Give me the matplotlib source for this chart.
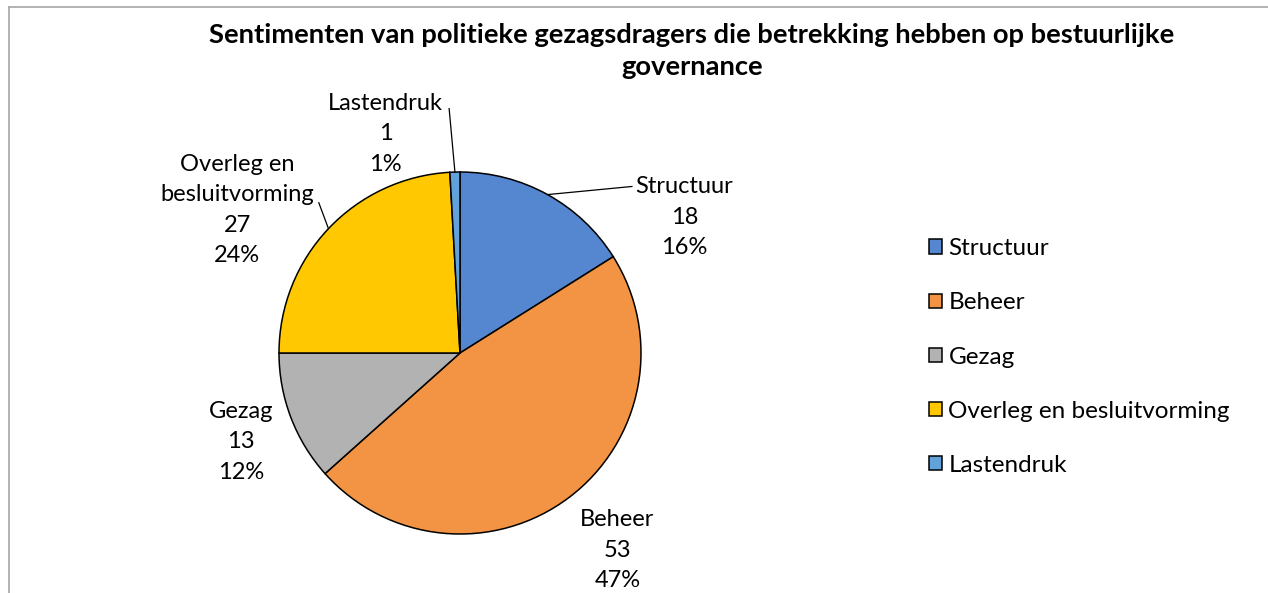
import numpy as np
import matplotlib.pyplot as plt
from matplotlib.lines import Line2D

plt.rcParams['font.family'] = ['Lato', 'DejaVu Sans']

# data
categories = ['Structuur', 'Beheer', 'Gezag', 'Overleg en besluitvorming', 'Lastendruk']
values = [18, 53, 13, 27, 1]
colors = ['#5586D0', '#F29444', '#B2B2B2', '#FFC800', '#62A2DA']
label_names = ['Structuur', 'Beheer', 'Gezag', 'Overleg en\nbesluitvorming', 'Lastendruk']
title = 'Sentimenten van politieke gezagsdragers die betrekking hebben op bestuurlijke\ngovernance'

W, H = 1268, 593
fig = plt.figure(figsize=(W / 100, H / 100), dpi=100)

# frame around the chart area
fig.add_artist(Line2D([9 / W, 9 / W], [0, 1 - 7 / H], color='#A6A6A6', lw=1.2))
fig.add_artist(Line2D([9 / W, 1], [1 - 7 / H, 1 - 7 / H], color='#A6A6A6', lw=1.2))

# pie axes, center (460, 353) px, radius 181 px
cx, cy, r = 460, 353, 181
ax = fig.add_axes([(cx - r) / W, (H - cy - r) / H, 2 * r / W, 2 * r / H])
wedges, _ = ax.pie(values, colors=colors, startangle=90, counterclock=False,
                   radius=1, wedgeprops=dict(edgecolor='black', linewidth=1.1))
ax.set_xlim(-1, 1)
ax.set_ylim(-1, 1)
ax.set_aspect('equal')
ax.axis('off')

total = sum(values)
# label centres in pie units (relative to radius)
label_pos = [(1.24, 0.75), (0.87, -1.09), (-1.21, -0.49), (-1.23, 0.79), (-0.41, 1.21)]
# leader line end points (None = no leader)
leader_end = [(0.95, 0.92), None, None, (-0.78, 0.83), (-0.06, 1.35)]

cum = 0
for i, v in enumerate(values):
    mid = cum + v / 2
    cum += v
    ang = np.deg2rad(90 - mid / total * 360)
    pct = round(v / total * 100)
    lx, ly = label_pos[i]
    ax.text(lx, ly, f'{label_names[i]}\n{v}\n{pct}%', ha='center', va='center',
            fontsize=17, linespacing=1.55, clip_on=False)
    if leader_end[i] is not None:
        ex, ey = leader_end[i]
        ax.plot([np.cos(ang), ex], [np.sin(ang), ey], color='black', lw=0.9,
                clip_on=False)

fig.text(692 / W, 1 - 51 / H, title, ha='center', va='center', fontsize=19.7,
         fontweight='bold', linespacing=1.4)

leg = fig.legend(wedges, categories, loc='center left',
                 bbox_to_anchor=(929 / W, 1 - 357 / H), frameon=False,
                 fontsize=17.5, handlelength=0.55, handleheight=0.55,
                 handletextpad=0.25, labelspacing=1.36, borderpad=0, borderaxespad=0)

fig.savefig('out.png', dpi=100)
